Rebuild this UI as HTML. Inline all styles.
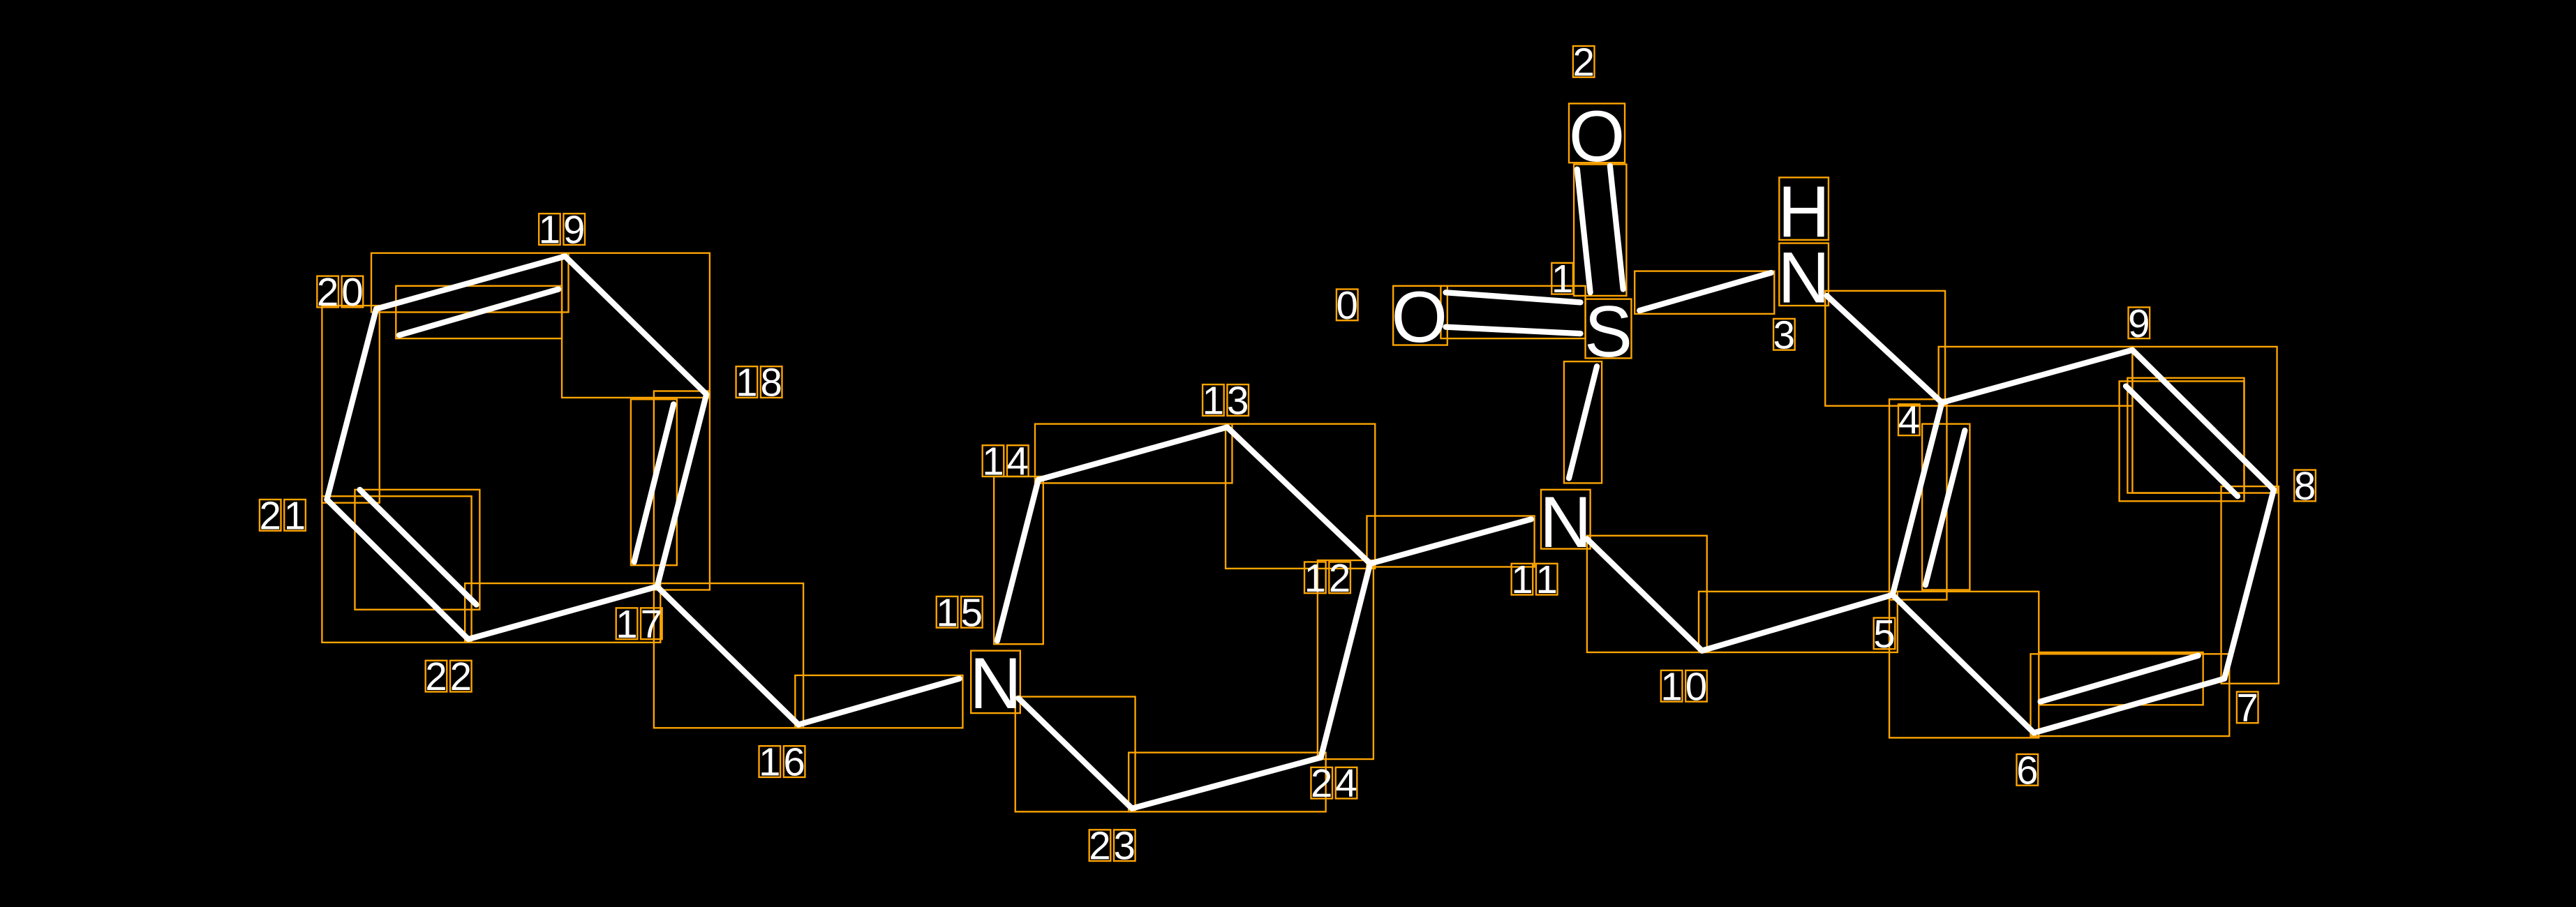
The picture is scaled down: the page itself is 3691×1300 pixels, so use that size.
<!DOCTYPE html>
<html><head><meta charset="utf-8"><style>
html,body{margin:0;padding:0;background:#000;}
svg{display:block;}
</style></head><body>
<svg width="3691" height="1300" viewBox="0 0 1568 552" preserveAspectRatio="none" xmlns="http://www.w3.org/2000/svg">
<rect width="1568" height="552" fill="#000"/>
<g fill="none" stroke="#FFA500" stroke-width="1">
<rect x="848" y="174" width="33" height="36"/>
<rect x="955" y="63" width="34" height="36"/>
<rect x="965" y="182" width="28" height="36"/>
<rect x="1083" y="108" width="30" height="38"/>
<rect x="1083" y="148" width="30" height="38"/>
<rect x="938" y="298" width="30" height="36"/>
<rect x="591" y="396" width="30" height="38"/>
<rect x="877" y="174" width="88" height="32"/>
<rect x="958" y="100" width="32" height="80"/>
<rect x="995" y="165" width="85" height="26"/>
<rect x="1111" y="177" width="73" height="70"/>
<rect x="1180" y="211" width="118" height="36"/>
<rect x="1298" y="211" width="88" height="89"/>
<rect x="1290" y="232" width="76" height="73"/>
<rect x="1236" y="398" width="121" height="50"/>
<rect x="1241" y="397" width="100" height="32"/>
<rect x="1150" y="360" width="91" height="89"/>
<rect x="1150" y="243" width="35" height="122"/>
<rect x="1170" y="258" width="29" height="101"/>
<rect x="1034" y="360" width="121" height="37"/>
<rect x="966" y="326" width="73" height="71"/>
<rect x="952" y="220" width="23" height="74"/>
<rect x="832" y="314" width="102" height="31"/>
<rect x="746" y="258" width="91" height="88"/>
<rect x="630" y="258" width="120" height="36"/>
<rect x="605" y="290" width="30" height="102"/>
<rect x="802" y="341" width="34" height="121"/>
<rect x="687" y="458" width="120" height="36"/>
<rect x="618" y="424" width="73" height="70"/>
<rect x="484" y="411" width="102" height="32"/>
<rect x="398" y="355" width="91" height="88"/>
<rect x="398" y="238" width="34" height="121"/>
<rect x="384" y="243" width="28" height="101"/>
<rect x="342" y="154" width="90" height="88"/>
<rect x="226" y="154" width="120" height="36"/>
<rect x="241" y="174" width="101" height="32"/>
<rect x="196" y="186" width="35" height="120"/>
<rect x="196" y="302" width="91" height="89"/>
<rect x="216" y="298" width="76" height="73"/>
<rect x="283" y="355" width="119" height="36"/>
<rect x="1295" y="230" width="71" height="70"/>
<rect x="1352" y="296" width="35" height="120"/>
</g>
<g stroke="#fff" stroke-width="3.5" stroke-linecap="round" fill="none">
<line x1="880" y1="178" x2="962" y2="184"/><line x1="880" y1="199" x2="962" y2="203"/>
<line x1="960" y1="103" x2="968" y2="178"/><line x1="980" y1="101" x2="988" y2="176"/>
<line x1="998" y1="189" x2="1078" y2="166"/>
<line x1="1112" y1="180" x2="1182" y2="245"/>
<line x1="1182" y1="245" x2="1298" y2="213"/>
<line x1="1298" y1="213" x2="1384" y2="298"/>
<line x1="1294" y1="235" x2="1362" y2="302"/>
<line x1="1384" y1="298" x2="1354" y2="413"/>
<line x1="1354" y1="413" x2="1238" y2="446"/>
<line x1="1242" y1="427" x2="1338" y2="399"/>
<line x1="1238" y1="446" x2="1152" y2="362"/>
<line x1="1152" y1="362" x2="1182" y2="245"/>
<line x1="1172" y1="356" x2="1196" y2="262"/>
<line x1="1152" y1="362" x2="1036" y2="396"/>
<line x1="1036" y1="396" x2="966" y2="328"/>
<line x1="955" y1="291" x2="972" y2="223"/>
<line x1="932" y1="316" x2="834" y2="343"/>
<line x1="834" y1="343" x2="747" y2="260"/>
<line x1="747" y1="260" x2="632" y2="292"/>
<line x1="632" y1="292" x2="607" y2="390"/>
<line x1="834" y1="343" x2="804" y2="461"/>
<line x1="804" y1="461" x2="689" y2="492"/>
<line x1="689" y1="492" x2="620" y2="425"/>
<line x1="584" y1="413" x2="486" y2="441"/>
<line x1="486" y1="441" x2="400" y2="357"/>
<line x1="400" y1="357" x2="430" y2="240"/>
<line x1="386" y1="342" x2="410" y2="246"/>
<line x1="430" y1="240" x2="344" y2="156"/>
<line x1="344" y1="156" x2="229" y2="188"/>
<line x1="243" y1="204" x2="340" y2="176"/>
<line x1="229" y1="188" x2="199" y2="304"/>
<line x1="199" y1="304" x2="285" y2="389"/>
<line x1="219" y1="298" x2="290" y2="368"/>
<line x1="285" y1="389" x2="400" y2="357"/>
</g>
<g fill="#fff" font-family="Liberation Sans, sans-serif" font-size="44" text-anchor="middle">
<text x="864" y="208">O</text>
<text x="979" y="217">S</text>
<text x="972" y="98">O</text>
<text x="1098" y="144">H</text>
<text x="1098" y="184">N</text>
<text x="953" y="333">N</text>
<text x="606" y="431">N</text>
</g>
<g fill="none" stroke="#FFA500" stroke-width="1">
<rect x="813.5" y="176" width="13" height="19"/>
<rect x="944.5" y="160" width="13" height="19"/>
<rect x="957.5" y="28" width="13" height="19"/>
<rect x="1079.5" y="194" width="13" height="19"/>
<rect x="1155.5" y="246" width="13" height="19"/>
<rect x="1140.5" y="376" width="13" height="19"/>
<rect x="1227.5" y="459" width="13" height="19"/>
<rect x="1361.5" y="421" width="13" height="19"/>
<rect x="1396.5" y="286" width="13" height="19"/>
<rect x="1295.5" y="187" width="13" height="19"/>
<rect x="1011" y="408" width="13" height="19"/><rect x="1026" y="408" width="13" height="19"/>
<rect x="920" y="343" width="13" height="19"/><rect x="935" y="343" width="13" height="19"/>
<rect x="794" y="342" width="13" height="19"/><rect x="809" y="342" width="13" height="19"/>
<rect x="732" y="234" width="13" height="19"/><rect x="747" y="234" width="13" height="19"/>
<rect x="598" y="271" width="13" height="19"/><rect x="613" y="271" width="13" height="19"/>
<rect x="570" y="363" width="13" height="19"/><rect x="585" y="363" width="13" height="19"/>
<rect x="462" y="454" width="13" height="19"/><rect x="477" y="454" width="13" height="19"/>
<rect x="375" y="370" width="13" height="19"/><rect x="390" y="370" width="13" height="19"/>
<rect x="448" y="223" width="13" height="19"/><rect x="463" y="223" width="13" height="19"/>
<rect x="328" y="130" width="13" height="19"/><rect x="343" y="130" width="13" height="19"/>
<rect x="193" y="168" width="13" height="19"/><rect x="208" y="168" width="13" height="19"/>
<rect x="158" y="304" width="13" height="19"/><rect x="173" y="304" width="13" height="19"/>
<rect x="259" y="402" width="13" height="19"/><rect x="274" y="402" width="13" height="19"/>
<rect x="663" y="505" width="13" height="19"/><rect x="678" y="505" width="13" height="19"/>
<rect x="798" y="467" width="13" height="19"/><rect x="813" y="467" width="13" height="19"/>
</g>
<g font-family="Liberation Sans, sans-serif" font-size="24" fill="#fff" text-anchor="middle">
<text x="820" y="194">0</text>
<text x="951" y="178">1</text>
<text x="964" y="46">2</text>
<text x="1086" y="212">3</text>
<text x="1162" y="264">4</text>
<text x="1147" y="394">5</text>
<text x="1234" y="477">6</text>
<text x="1368" y="439">7</text>
<text x="1403" y="304">8</text>
<text x="1302" y="205">9</text>
<text x="1017.5" y="426">1</text><text x="1032.5" y="426">0</text>
<text x="926.5" y="361">1</text><text x="941.5" y="361">1</text>
<text x="800.5" y="360">1</text><text x="815.5" y="360">2</text>
<text x="738.5" y="252">1</text><text x="753.5" y="252">3</text>
<text x="604.5" y="289">1</text><text x="619.5" y="289">4</text>
<text x="576.5" y="381">1</text><text x="591.5" y="381">5</text>
<text x="468.5" y="472">1</text><text x="483.5" y="472">6</text>
<text x="381.5" y="388">1</text><text x="396.5" y="388">7</text>
<text x="454.5" y="241">1</text><text x="469.5" y="241">8</text>
<text x="334.5" y="148">1</text><text x="349.5" y="148">9</text>
<text x="199.5" y="186">2</text><text x="214.5" y="186">0</text>
<text x="164.5" y="322">2</text><text x="179.5" y="322">1</text>
<text x="265.5" y="420">2</text><text x="280.5" y="420">2</text>
<text x="669.5" y="523">2</text><text x="684.5" y="523">3</text>
<text x="804.5" y="485">2</text><text x="819.5" y="485">4</text>
</g>
</svg>
</body></html>
